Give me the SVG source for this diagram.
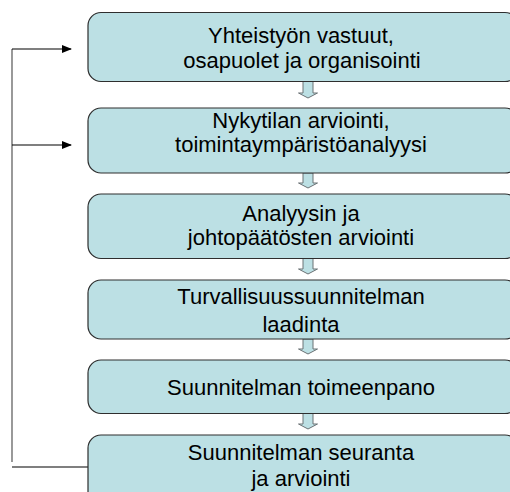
<svg xmlns="http://www.w3.org/2000/svg" width="510" height="492" viewBox="0 0 510 492">
<style>
.box{fill:#bce0e4;stroke:#2e2e2e;stroke-width:1.2}
.t{font-family:"Liberation Sans",Arial,sans-serif;font-size:22px;fill:#000;text-anchor:middle}
.da{fill:#bce0e4;stroke:#6b7275;stroke-width:1}
.fb{fill:none;stroke:#000;stroke-width:1.2}
</style>
<defs>
<marker id="ah" markerWidth="10" markerHeight="8" refX="9" refY="4" orient="auto" markerUnits="userSpaceOnUse">
<path d="M0,0 L10,4 L0,8 Z" fill="#000"/>
</marker>
</defs>
<rect width="510" height="492" fill="#fff"/>
<g id="connectors">
<line x1="12" y1="49" x2="12" y2="462" stroke="#808080" stroke-width="1.6"/>
<line x1="12" y1="49" x2="71" y2="49" class="fb" marker-end="url(#ah)"/>
<line x1="12" y1="145" x2="71" y2="145" class="fb" marker-end="url(#ah)"/>
<line x1="12" y1="467" x2="88" y2="467" class="fb"/>
<path class="da" d="M303,81.5 V93 H298.5 L308,98 L317.5,93 H313 V81.5 Z"/>
<path class="da" d="M303,173 V183 H298.5 L308,188 L317.5,183 H313 V173 Z"/>
<path class="da" d="M303,258.5 V269 H298.5 L308,274 L317.5,269 H313 V258.5 Z"/>
<path class="da" d="M303,339 V349 H298.5 L308,354 L317.5,349 H313 V339 Z"/>
<path class="da" d="M303,413.5 V424 H298.5 L308,429 L317.5,424 H313 V413.5 Z"/>
</g>
<g id="n1"><rect class="box" x="88" y="12.5" width="430" height="69" rx="13"/>
<text class="t" x="301" y="42.5">Yhteistyön vastuut,</text>
<text class="t" x="302" y="67.5">osapuolet ja organisointi</text></g>
<g id="n2"><rect class="box" x="88" y="108" width="430" height="65" rx="13"/>
<text class="t" x="301" y="127.5">Nykytilan arviointi,</text>
<text class="t" x="301" y="151.5">toimintaympäristöanalyysi</text></g>
<g id="n3"><rect class="box" x="88" y="194" width="430" height="64.5" rx="13"/>
<text class="t" x="301" y="221">Analyysin ja</text>
<text class="t" x="301" y="245">johtopäätösten arviointi</text></g>
<g id="n4"><rect class="box" x="88" y="280" width="430" height="59" rx="13"/>
<text class="t" x="301" y="303.5">Turvallisuussuunnitelman</text>
<text class="t" x="301" y="331.5">laadinta</text></g>
<g id="n5"><rect class="box" x="88" y="360" width="430" height="53.5" rx="13"/>
<text class="t" x="301" y="395">Suunnitelman toimeenpano</text></g>
<g id="n6"><rect class="box" x="88" y="435" width="430" height="80" rx="13"/>
<text class="t" x="301" y="460">Suunnitelman seuranta</text>
<text class="t" x="301" y="486">ja arviointi</text></g>
</svg>
